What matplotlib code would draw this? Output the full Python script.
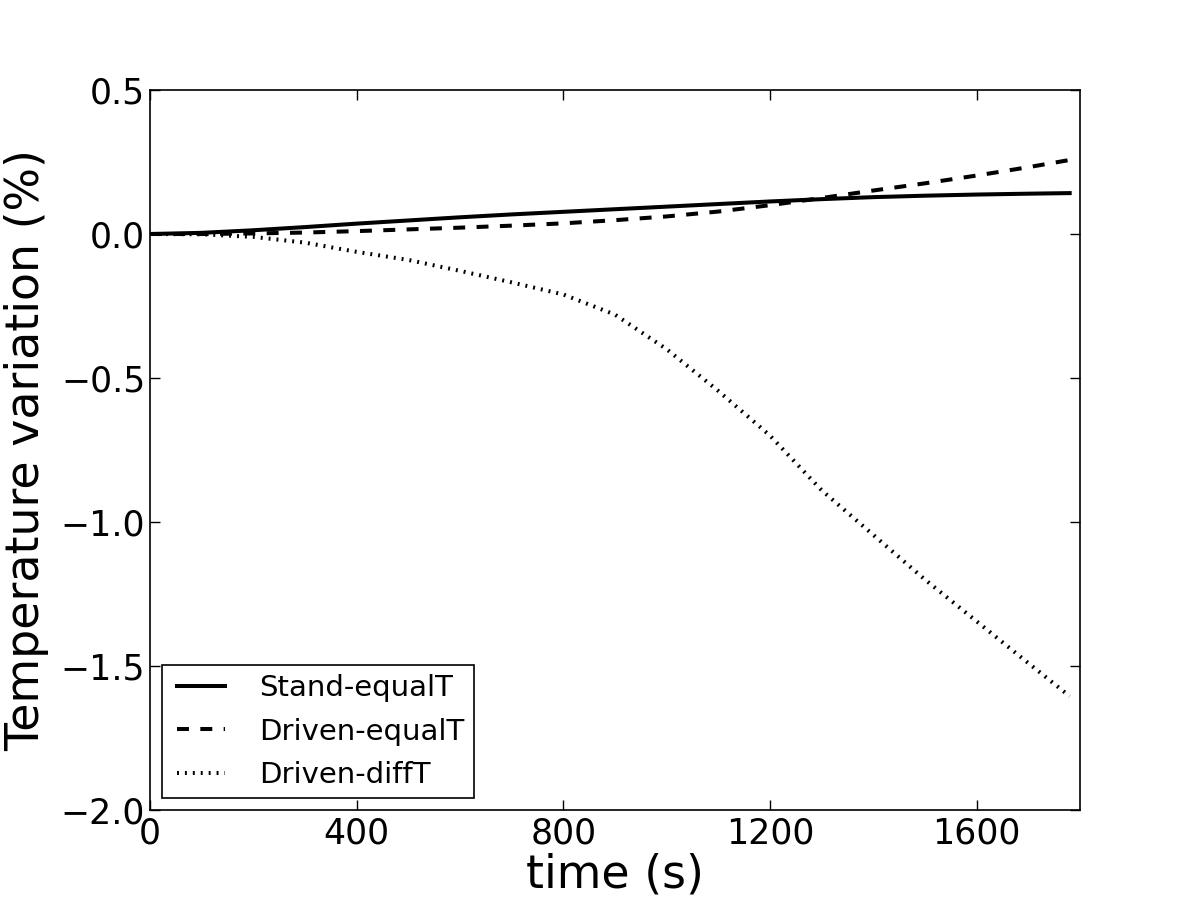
import matplotlib
matplotlib.use("Agg")
import matplotlib.pyplot as plt
from matplotlib.legend_handler import HandlerLine2D
from matplotlib.lines import Line2D
from matplotlib.ticker import FuncFormatter

plt.rcParams["font.family"] = "DejaVu Sans"
plt.rcParams["lines.scale_dashes"] = False

time_s = [0, 100, 200, 300, 400, 500, 600, 700, 800, 900, 1000,
          1100, 1200, 1300, 1400, 1500, 1600, 1700, 1780]
stand_equal = [0.0, 0.004, 0.013, 0.024, 0.036, 0.047, 0.058, 0.068, 0.077,
               0.086, 0.095, 0.104, 0.113, 0.121, 0.128, 0.133, 0.137, 0.140, 0.142]
driven_equal = [0.0, 0.000, 0.002, 0.005, 0.010, 0.016, 0.022, 0.029, 0.037,
                0.048, 0.061, 0.078, 0.100, 0.125, 0.151, 0.176, 0.203, 0.232, 0.257]
driven_diff = [0.0, -0.001, -0.010, -0.030, -0.062, -0.090, -0.128, -0.168, -0.210,
               -0.280, -0.400, -0.545, -0.700, -0.890, -1.045, -1.200, -1.345, -1.490, -1.605]

labels = ["Stand-equalT", "Driven-equalT", "Driven-diffT"]


def minus_fmt(value, pos):
    return f"{value:.1f}".replace("-", "\u2212")


fig = plt.figure(figsize=(12, 9), dpi=100)
ax = fig.add_axes([0.125, 0.1, 0.775, 0.8])

ax.plot(time_s, stand_equal, color="black", linewidth=2.9, label=labels[0])
ax.plot(time_s, driven_equal, color="black", linewidth=2.9,
        dashes=(8.6, 8.2), label=labels[1])
ax.plot(time_s, driven_diff, color="black", linewidth=2.9,
        dashes=(1.4, 4.3), label=labels[2])

ax.set_xlim(0, 1800)
ax.set_ylim(-2.0, 0.5)
ax.set_xticks([0, 400, 800, 1200, 1600])
ax.set_yticks([-2.0, -1.5, -1.0, -0.5, 0.0, 0.5])
ax.yaxis.set_major_formatter(FuncFormatter(minus_fmt))
ax.tick_params(direction="in", length=7, width=1, labelsize=25,
               top=True, right=True)
ax.tick_params(axis="y", pad=3.5)
ax.tick_params(axis="x", pad=5)
for spine in ax.spines.values():
    spine.set_linewidth(1.2)

ax.set_xlabel("time (s)", fontsize=33, labelpad=1)
ax.set_ylabel("Temperature variation (%)", fontsize=33, labelpad=8.5)

leg = ax.legend(loc="lower left", fontsize=21, handlelength=1.85,
                handletextpad=1.15, fancybox=False, framealpha=1,
                edgecolor="black", borderaxespad=0.4, labelspacing=0.52,
                borderpad=0.33,
                handler_map={Line2D: HandlerLine2D(xpad=0.2)})
leg.get_frame().set_linewidth(1.2)

fig.savefig("out.png", dpi=100)
